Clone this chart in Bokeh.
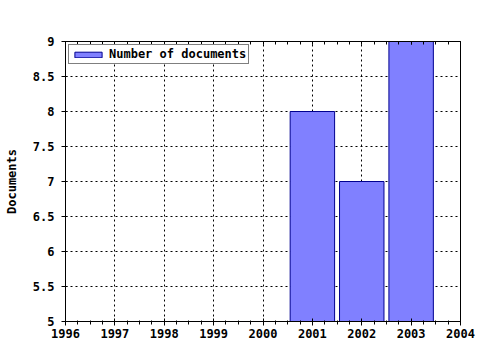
from bokeh.plotting import figure
from bokeh.models import (FixedTicker, LinearAxis, Legend, LegendItem,
                          CustomJSTickFormatter, Range1d)
from bokeh.embed import file_html
from bokeh.resources import INLINE

years = [2001, 2002, 2003]
documents = [8, 7, 9]
x_ticks = [1996, 1997, 1998, 1999, 2000, 2001, 2002, 2003, 2004]
x_minor = [1996 + i * 0.25 for i in range(33)]
y_ticks = [5, 5.5, 6, 6.5, 7, 7.5, 8, 8.5, 9]
legend_label = "Number of documents"
y_label = "Documents"

FONT = "DejaVu Sans Mono"
FSIZE = "12px"

p = figure(frame_width=395, frame_height=280, output_backend="svg",
           toolbar_location=None, x_range=Range1d(1996, 2004),
           y_range=Range1d(5, 9), min_border_left=65, min_border_top=41,
           min_border_right=20, min_border_bottom=29,
           background_fill_color="white", border_fill_color="white",
           outline_line_color="black", outline_line_width=1)

r = p.vbar(x=years, top=documents, bottom=5, width=0.9,
           fill_color="#8080ff", line_color="#000090", line_width=1)

for ax in p.xaxis:
    ax.ticker = FixedTicker(ticks=x_ticks, minor_ticks=x_minor)
    ax.major_tick_in = 3
    ax.major_tick_out = 4
    ax.minor_tick_in = 1
    ax.minor_tick_out = 3
    ax.major_label_standoff = 3
for ax in p.yaxis:
    ax.ticker = FixedTicker(ticks=y_ticks, minor_ticks=[])
    ax.major_tick_in = 2
    ax.major_tick_out = 4
    ax.major_label_standoff = 7
    ax.axis_label = y_label
    ax.axis_label_standoff = 11
    ax.axis_label_text_font_style = "bold"
    ax.axis_label_text_font = FONT
    ax.axis_label_text_font_size = FSIZE
    ax.axis_label_text_color = "black"

fmt = CustomJSTickFormatter(code="return tick.toString();")
for ax in p.xaxis + p.yaxis:
    ax.formatter = fmt
    ax.major_label_text_font = FONT
    ax.major_label_text_font_size = FSIZE
    ax.major_label_text_font_style = "bold"
    ax.major_label_text_color = "black"
    ax.axis_line_color = "black"
    ax.major_tick_line_color = "black"
    ax.minor_tick_line_color = "black"

top = LinearAxis(ticker=FixedTicker(ticks=x_ticks, minor_ticks=x_minor),
                 formatter=CustomJSTickFormatter(code="return '';"),
                 major_tick_in=3, major_tick_out=0, minor_tick_in=3,
                 minor_tick_out=0, axis_line_color="black",
                 major_label_standoff=0)
p.add_layout(top, "above")

p.xgrid.grid_line_color = "black"
p.xgrid.grid_line_dash = "2 3"
p.ygrid.grid_line_color = "black"
p.ygrid.grid_line_dash = "2 3"
p.xgrid.ticker = FixedTicker(ticks=x_ticks)
p.ygrid.ticker = FixedTicker(ticks=y_ticks)

legend = Legend(items=[LegendItem(label=legend_label, renderers=[r])],
                location="top_left", margin=3, padding=2, spacing=0,
                glyph_width=34, glyph_height=7, label_height=9,
                label_standoff=4, label_text_font=FONT,
                label_text_font_size=FSIZE, label_text_font_style="bold",
                label_text_color="black",
                border_line_color="black", border_line_width=1,
                background_fill_alpha=1.0)
p.add_layout(legend)

open("out.html", "w").write(file_html(p, INLINE))
